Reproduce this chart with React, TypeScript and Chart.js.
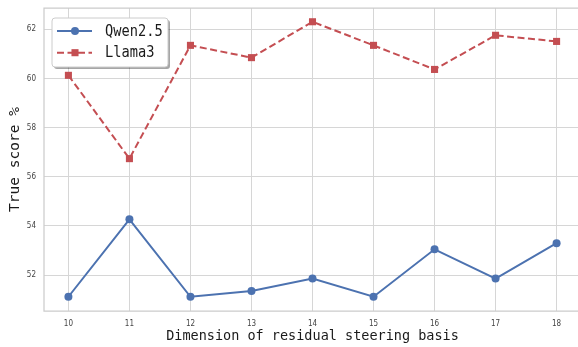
import React, { useEffect, useRef } from "react";
import { Chart, registerables } from "chart.js";

Chart.register(...registerables);

// ---- data ----
const dims = [10, 11, 12, 13, 14, 15, 16, 17, 18];
const qwenScores = [51.12, 54.27, 51.12, 51.35, 51.86, 51.12, 53.05, 51.86, 53.3];
const llamaScores = [60.13, 56.74, 61.35, 60.85, 62.31, 61.35, 60.37, 61.76, 61.51];
const seriesNames = ["Qwen2.5", "Llama3"];
const xTickValues = [10, 11, 12, 13, 14, 15, 16, 17, 18];
const yTickValues = [52, 54, 56, 58, 60, 62];
const xTitle = "Dimension of residual steering basis";
const yTitle = "True score %";

const BLUE = "#4c72b0";
const RED = "#c44e52";
const MONO = '"DejaVu Sans Mono", "Liberation Mono", monospace';
const TICKFONT = '"Liberation Sans Narrow", "DejaVu Sans Condensed", "Liberation Sans", sans-serif';

function roundRectPath(ctx: CanvasRenderingContext2D, x: number, y: number, w: number, h: number, r: number) {
  ctx.beginPath();
  ctx.moveTo(x + r, y);
  ctx.lineTo(x + w - r, y);
  ctx.quadraticCurveTo(x + w, y, x + w, y + r);
  ctx.lineTo(x + w, y + h - r);
  ctx.quadraticCurveTo(x + w, y + h, x + w - r, y + h);
  ctx.lineTo(x + r, y + h);
  ctx.quadraticCurveTo(x, y + h, x, y + h - r);
  ctx.lineTo(x, y + r);
  ctx.quadraticCurveTo(x, y, x + r, y);
  ctx.closePath();
}

const framePlugin = {
  id: "frameAndLegend",
  beforeDatasetsDraw(chart: any) {
    const { ctx, chartArea: ca } = chart;
    ctx.save();
    ctx.strokeStyle = "#cccccc";
    ctx.lineWidth = 1.25;
    ctx.beginPath();
    ctx.moveTo(ca.right, ca.top);
    ctx.lineTo(ca.left, ca.top);
    ctx.lineTo(ca.left, ca.bottom);
    ctx.lineTo(ca.right, ca.bottom);
    ctx.stroke();
    ctx.restore();
  },
  afterDraw(chart: any) {
    const { ctx, chartArea: ca } = chart;
    const bx = ca.left + 8;
    const by = ca.top + 10;
    const bw = 116;
    const bh = 49;
    ctx.save();
    // shadow
    roundRectPath(ctx, bx + 2, by + 2, bw, bh, 3);
    ctx.fillStyle = "rgba(0,0,0,0.35)";
    ctx.fill();
    // box
    roundRectPath(ctx, bx, by, bw, bh, 3);
    ctx.fillStyle = "#ffffff";
    ctx.fill();
    ctx.strokeStyle = "#cccccc";
    ctx.lineWidth = 1;
    ctx.stroke();

    chart.data.datasets.forEach((ds: any, i: number) => {
      const cy = by + 13 + i * 21.7;
      ctx.save();
      ctx.strokeStyle = ds.borderColor;
      ctx.lineWidth = 2;
      ctx.setLineDash(ds.borderDash || []);
      ctx.beginPath();
      ctx.moveTo(bx + 5, cy);
      ctx.lineTo(bx + 40, cy);
      ctx.stroke();
      ctx.setLineDash([]);
      ctx.fillStyle = ds.borderColor;
      const mx = bx + 23;
      if (ds.pointStyle === "rect") {
        const s = ds.pointRadius * Math.SQRT1_2;
        ctx.fillRect(mx - s, cy - s, 2 * s, 2 * s);
      } else {
        ctx.beginPath();
        ctx.arc(mx, cy, ds.pointRadius, 0, Math.PI * 2);
        ctx.fill();
      }
      ctx.restore();

      ctx.save();
      ctx.fillStyle = "#1a1a1a";
      ctx.font = `16.5px ${MONO}`;
      ctx.textBaseline = "middle";
      ctx.textAlign = "left";
      ctx.translate(bx + 53, cy + 0.5);
      ctx.scale(0.83, 1);
      ctx.fillText(ds.label, 0, 0);
      ctx.restore();
    });
    ctx.restore();
  },
};

export default function App() {
  const ref = useRef<HTMLCanvasElement>(null);

  useEffect(() => {
    if (!ref.current) return;
    const chart = new Chart(ref.current, {
      type: "line",
      data: {
        datasets: [
          {
            label: seriesNames[0],
            data: dims.map((d, i) => ({ x: d, y: qwenScores[i] })),
            borderColor: BLUE,
            backgroundColor: BLUE,
            borderWidth: 2,
            pointStyle: "circle",
            pointRadius: 4,
            pointBorderWidth: 0,
            pointBackgroundColor: BLUE,
            tension: 0,
          },
          {
            label: seriesNames[1],
            data: dims.map((d, i) => ({ x: d, y: llamaScores[i] })),
            borderColor: RED,
            backgroundColor: RED,
            borderWidth: 2,
            borderDash: [7, 3.5],
            pointStyle: "rect",
            pointRadius: 5,
            pointBorderWidth: 0,
            pointBackgroundColor: RED,
            tension: 0,
          },
        ] as any,
      },
      options: {
        responsive: false,
        animation: false,
        layout: { padding: { top: 8, right: 19, left: 0, bottom: 0 } },
        plugins: {
          legend: { display: false },
          tooltip: { enabled: false },
        },
        scales: {
          x: {
            type: "linear",
            min: 9.6,
            max: 18.4,
            afterFit: (s: any) => {
              s.height = 36;
              s.paddingLeft = 0;
              s.paddingRight = 0;
            },
            afterBuildTicks: (s: any) => {
              s.ticks = xTickValues.map((v) => ({ value: v }));
            },
            grid: { color: "#d6d6d6", lineWidth: 1, drawTicks: false },
            border: { display: false },
            ticks: {
              padding: 8,
              color: "#444",
              font: { size: 8, family: TICKFONT },
              maxRotation: 0,
              autoSkip: false,
              callback: (v: any) => String(v),
            },
            title: {
              display: true,
              text: xTitle,
              color: "#1a1a1a",
              font: { size: 13.5, family: MONO },
              padding: { top: 0, bottom: 2 },
            },
          },
          y: {
            type: "linear",
            min: 50.54,
            max: 62.87,
            afterFit: (s: any) => {
              s.width = 44;
              s.paddingTop = 0;
              s.paddingBottom = 0;
            },
            afterBuildTicks: (s: any) => {
              s.ticks = yTickValues.map((v) => ({ value: v }));
            },
            grid: { color: "#d6d6d6", lineWidth: 1, drawTicks: false },
            border: { display: false },
            ticks: {
              padding: 8,
              color: "#444",
              font: { size: 8, family: TICKFONT },
              autoSkip: false,
              callback: (v: any) => String(v),
            },
            title: {
              display: true,
              text: yTitle,
              color: "#1a1a1a",
              font: { size: 14.5, family: MONO },
              padding: { top: 7, bottom: 0 },
            },
          },
        } as any,
      },
      plugins: [framePlugin],
    });
    return () => chart.destroy();
  }, []);

  return (
    <div
      style={{
        position: "fixed",
        left: 0,
        top: 0,
        width: 578,
        height: 347,
        overflow: "hidden",
        background: "#ffffff",
      }}
    >
      <canvas ref={ref} width={600} height={347} style={{ display: "block", width: 600, height: 347 }} />
    </div>
  );
}
